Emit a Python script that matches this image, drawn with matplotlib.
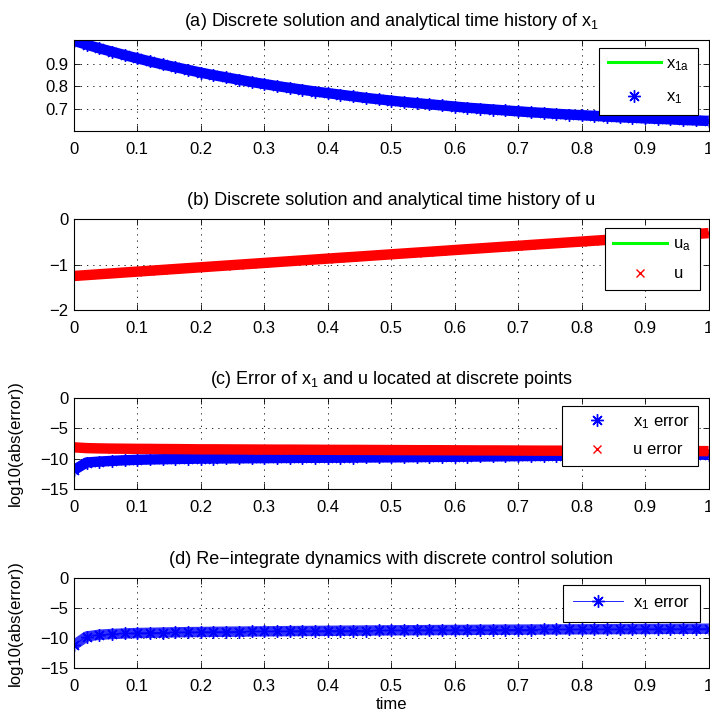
#!/usr/bin/env python3
# -*- coding: utf-8 -*-

import matplotlib
matplotlib.use('Agg')
import matplotlib.pyplot as plt

plt.rcParams['font.family'] = ['Liberation Sans', 'DejaVu Sans']
plt.rcParams['mathtext.default'] = 'regular'
plt.rcParams['font.size'] = 12

# discrete time points
time = [0.00, 0.02, 0.04, 0.06, 0.08, 0.10, 0.12, 0.14, 0.16, 0.18,
        0.20, 0.22, 0.24, 0.26, 0.28, 0.30, 0.32, 0.34, 0.36, 0.38,
        0.40, 0.42, 0.44, 0.46, 0.48, 0.50, 0.52, 0.54, 0.56, 0.58,
        0.60, 0.62, 0.64, 0.66, 0.68, 0.70, 0.72, 0.74, 0.76, 0.78,
        0.80, 0.82, 0.84, 0.86, 0.88, 0.90, 0.92, 0.94, 0.96, 0.98,
        1.00]

# (a) state x1 (discrete and analytical coincide at this scale)
x1_vals = [1.000, 0.983, 0.967, 0.952, 0.937, 0.923, 0.909, 0.896, 0.884, 0.872,
           0.860, 0.849, 0.839, 0.829, 0.819, 0.810, 0.801, 0.793, 0.785, 0.777,
           0.770, 0.763, 0.756, 0.749, 0.743, 0.737, 0.731, 0.726, 0.721, 0.716,
           0.711, 0.706, 0.702, 0.698, 0.694, 0.690, 0.686, 0.683, 0.679, 0.676,
           0.673, 0.670, 0.667, 0.664, 0.662, 0.659, 0.657, 0.655, 0.652, 0.650,
           0.648]

# (b) control u
u_vals = [-1.250, -1.231, -1.212, -1.193, -1.173, -1.154, -1.135, -1.116, -1.097, -1.078,
          -1.059, -1.040, -1.021, -1.002, -0.983, -0.964, -0.945, -0.926, -0.907, -0.888,
          -0.869, -0.850, -0.832, -0.813, -0.794, -0.775, -0.756, -0.737, -0.719, -0.700,
          -0.681, -0.662, -0.644, -0.625, -0.606, -0.588, -0.569, -0.550, -0.532, -0.513,
          -0.495, -0.476, -0.458, -0.439, -0.420, -0.402, -0.384, -0.365, -0.347, -0.328,
          -0.310]

# (c) log10 errors at the discrete points
x1_err_vals = [-11.90, -10.65, -10.50, -10.38, -10.28, -10.20, -10.15, -10.11, -10.07, -10.04,
               -10.00, -9.99, -9.97, -9.96, -9.94, -9.93, -9.91, -9.90, -9.88, -9.87,
               -9.86, -9.85, -9.83, -9.82, -9.81, -9.80, -9.78, -9.76, -9.74, -9.72,
               -9.70, -9.68, -9.66, -9.64, -9.62, -9.60, -9.58, -9.56, -9.54, -9.52,
               -9.50, -9.49, -9.47, -9.46, -9.44, -9.42, -9.41, -9.39, -9.38, -9.36,
               -9.35]
u_err_vals = [-8.15, -8.28, -8.33, -8.36, -8.38, -8.40, -8.41, -8.43, -8.44, -8.46,
              -8.48, -8.48, -8.49, -8.50, -8.51, -8.52, -8.53, -8.53, -8.54, -8.55,
              -8.56, -8.57, -8.57, -8.58, -8.59, -8.60, -8.61, -8.62, -8.62, -8.63,
              -8.64, -8.65, -8.66, -8.66, -8.67, -8.68, -8.69, -8.70, -8.70, -8.71,
              -8.72, -8.73, -8.73, -8.74, -8.74, -8.75, -8.76, -8.76, -8.77, -8.77,
              -8.78]

# (d) log10 error after re-integrating the dynamics
reint_err_vals = [-11.20, -9.75, -9.45, -9.33, -9.24, -9.17, -9.13, -9.09, -9.05, -9.02,
                  -9.00, -8.97, -8.95, -8.93, -8.91, -8.89, -8.87, -8.85, -8.83, -8.82,
                  -8.80, -8.78, -8.77, -8.75, -8.74, -8.72, -8.71, -8.70, -8.68, -8.67,
                  -8.66, -8.65, -8.63, -8.62, -8.61, -8.60, -8.59, -8.58, -8.57, -8.56,
                  -8.55, -8.54, -8.53, -8.52, -8.51, -8.50, -8.49, -8.48, -8.47, -8.46,
                  -8.45]

xticks = [0, 0.1, 0.2, 0.3, 0.4, 0.5, 0.6, 0.7, 0.8, 0.9, 1]
xtick_labels = ['0', '0.1', '0.2', '0.3', '0.4', '0.5', '0.6', '0.7', '0.8', '0.9', '1']

titles = ['(a) Discrete solution and analytical time history of x$_1$',
          '(b) Discrete solution and analytical time history of u',
          '(c) Error of x$_1$ and u located at discrete points',
          '(d) Re\u2212integrate dynamics with discrete control solution']

BLUE = (0, 0, 1)
RED = (1, 0, 0)
GREEN = (0, 1, 0)
ASTERISK = (8, 2, 0)   # matlab-like '*' marker


def style_axes(ax, ylim, yticks, ytick_labels):
    ax.set_xlim(0, 1)
    ax.set_ylim(*ylim)
    ax.set_xticks(xticks)
    ax.set_xticklabels(xtick_labels)
    ax.set_yticks(yticks)
    ax.set_yticklabels(ytick_labels)
    ax.tick_params(direction='in', top=True, right=True, length=4,
                   width=0.6, labelsize=12)
    ax.tick_params(axis='x', pad=8)
    ax.tick_params(axis='y', pad=4)
    ax.grid(True, color='k', linewidth=0.6, dashes=(1.5, 6))
    for sp in ax.spines.values():
        sp.set_linewidth(0.8)


def add_legend(ax, anchor, **kw):
    leg = ax.legend(loc='upper right', bbox_to_anchor=anchor,
                    borderaxespad=0, fancybox=False, framealpha=1,
                    edgecolor='k', fontsize=12, **kw)
    leg.get_frame().set_linewidth(0.8)
    return leg


fig = plt.figure(figsize=(7.1, 7.18), dpi=100)
left, width, height = 0.104, 0.894, 0.127
ax_a = fig.add_axes([left, 0.8175, width, height])
ax_b = fig.add_axes([left, 0.568, width, height])
ax_c = fig.add_axes([left, 0.319, width, height])
ax_d = fig.add_axes([left, 0.0696, width, 0.1254])

band_kw = dict(linewidth=7.5, solid_capstyle='butt', label='_nolegend_')
star_kw = dict(marker=ASTERISK, markersize=9, markeredgewidth=1.0)
cross_kw = dict(marker='x', markersize=6, markeredgewidth=1.0)

# (a)
ax_a.plot(time, x1_vals, color=GREEN, linewidth=2.2, label='x$_{1a}$')
ax_a.plot(time, x1_vals, color=BLUE, **band_kw)
ax_a.plot(time, x1_vals, linestyle='none', color=BLUE, label='x$_1$', **star_kw)
style_axes(ax_a, (0.6035, 1.004), [0.7, 0.8, 0.9], ['0.7', '0.8', '0.9'])
ax_a.set_title(titles[0], fontsize=13, pad=10)
add_legend(ax_a, (0.9827, 0.912), handlelength=3.2, labelspacing=1.0,
           borderpad=0.5, handletextpad=0.3)

# (b)
ax_b.plot(time, u_vals, color=GREEN, linewidth=2.2, label='u$_a$')
ax_b.plot(time, u_vals, color=RED, **band_kw)
ax_b.plot(time, u_vals, linestyle='none', color=RED, label='u', **cross_kw)
style_axes(ax_b, (-2, 0), [-2, -1, 0], ['\u22122', '\u22121', '0'])
ax_b.set_title(titles[1], fontsize=13, pad=10)
add_legend(ax_b, (0.986, 0.901), handlelength=3.2, labelspacing=0.8,
           borderpad=0.5, handletextpad=0.4)

# (c)
ax_c.plot(time, x1_err_vals, color=BLUE, **band_kw)
ax_c.plot(time, x1_err_vals, linestyle='none', color=BLUE,
          label='x$_1$ error', **star_kw)
ax_c.plot(time, u_err_vals, color=RED, **band_kw)
ax_c.plot(time, u_err_vals, linestyle='none', color=RED,
          label='u error', **cross_kw)
style_axes(ax_c, (-15, 0), [-15, -10, -5, 0],
           ['\u221215', '\u221210', '\u22125', '0'])
ax_c.set_title(titles[2], fontsize=13, pad=10)
ax_c.set_ylabel('log10(abs(error))', fontsize=12)
add_legend(ax_c, (0.984, 0.912), handlelength=3.2, labelspacing=0.7,
           borderpad=0.5, handletextpad=0.6)

# (d)
ax_d.plot(time, reint_err_vals, color=(0.2, 0.2, 1.0), **band_kw)
ax_d.plot(time, reint_err_vals, color=BLUE, linewidth=0.6,
          label='x$_1$ error', **star_kw)
style_axes(ax_d, (-15, 0), [-15, -10, -5, 0],
           ['\u221215', '\u221210', '\u22125', '0'])
ax_d.set_title(titles[3], fontsize=13, pad=10)
ax_d.set_ylabel('log10(abs(error))', fontsize=12)
ax_d.set_xlabel('time', fontsize=12, labelpad=2)
add_legend(ax_d, (0.987, 0.922), handlelength=3.0, borderpad=0.6,
           handletextpad=0.6)

for ax in (ax_c, ax_d):
    ax.yaxis.set_label_coords(-0.08, 0.5)

fig.savefig('out.png', dpi=100)
